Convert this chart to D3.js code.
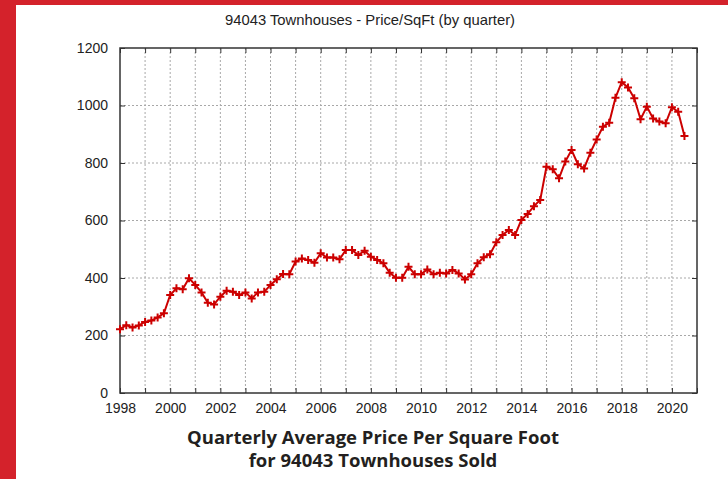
<!DOCTYPE html>
<html>
<head>
<meta charset="utf-8">
<script src="https://cdn.jsdelivr.net/npm/d3@7"></script>
<style>
  body { margin: 0; background: #fff; }
  svg { display: block; }
</style>
</head>
<body>
<svg id="chart"></svg>
<script>
// quarterly avg price per sqft, 1998 Q1 .. 2020 Q3
var startYear = 1998
var pricePerSqFt = [
  222, 236, 228, 235,   // 1998
  247, 252, 263, 277,   // 1999
  341, 364, 361, 399,   // 2000
  376, 350, 314, 308,   // 2001
  335, 356, 352, 341,   // 2002
  350, 329, 350, 352,   // 2003
  376, 396, 414, 413,   // 2004
  457, 468, 463, 453,   // 2005
  486, 471, 471, 465,   // 2006
  497, 497, 480, 495,   // 2007
  474, 463, 451, 418,   // 2008
  401, 401, 439, 413,   // 2009
  413, 430, 413, 418,   // 2010
  416, 428, 416, 395,   // 2011
  413, 451, 472, 483,   // 2012
  524, 550, 567, 550,   // 2013
  602, 623, 650, 671,   // 2014
  787, 778, 747, 805,   // 2015
  845, 796, 781, 836,   // 2016
  882, 926, 940, 1027,  // 2017
  1081, 1063, 1025, 952, // 2018
  996, 955, 944, 938,   // 2019
  994, 978, 894         // 2020
]
var yearTicks = d3.range(1998, 2022)
var yearLabels = d3.range(1998, 2021, 2)
var priceTicks = [0, 200, 400, 600, 800, 1000, 1200]
var titleText = "94043 Townhouses - Price/SqFt (by quarter)"
var captionLines = ["Quarterly Average Price Per Square Foot", "for 94043 Townhouses Sold"]

var dimensions = {
    width: 728,
    height: 479,
    margin: { top: 48, bottom: 86, right: 31, left: 120 }
}

var svg = d3.select("#chart")
            .attr("width", dimensions.width)
            .attr("height", dimensions.height)

// red frame of the page
svg.append("rect").attr("x", 0).attr("y", 0).attr("width", 16).attr("height", dimensions.height).attr("fill", "#d4222b")
svg.append("rect").attr("x", 0).attr("y", 0).attr("width", dimensions.width).attr("height", 5).attr("fill", "#d4222b")

var dataset = pricePerSqFt.map((v, i) => ({ t: startYear + i / 4, v: v }))
var xAccessor = d => d.t
var yAccessor = d => d.v

var plotLeft = dimensions.margin.left
var plotRight = dimensions.width - dimensions.margin.right
var plotTop = dimensions.margin.top
var plotBottom = dimensions.height - dimensions.margin.bottom

var xScale = d3.scaleLinear().domain([1998, 2021]).range([plotLeft, plotRight])
var yScale = d3.scaleLinear().domain([0, 1200]).range([plotBottom, plotTop])

// dotted grid
svg.append("g")
   .selectAll("line")
   .data(yearTicks.slice(1, -1))
   .join("line")
   .attr("x1", d => xScale(d)).attr("x2", d => xScale(d))
   .attr("y1", plotTop).attr("y2", plotBottom)
   .attr("stroke", "#a8a8a8").attr("stroke-width", 1).attr("stroke-dasharray", "2,2")
svg.append("g")
   .selectAll("line")
   .data(priceTicks.slice(1, -1))
   .join("line")
   .attr("x1", plotLeft).attr("x2", plotRight)
   .attr("y1", d => yScale(d)).attr("y2", d => yScale(d))
   .attr("stroke", "#a8a8a8").attr("stroke-width", 1).attr("stroke-dasharray", "2,2")

// axes, ticks pointing in, mirrored on top and right
var fontFam = "'Liberation Sans', Arial, sans-serif"
var xAxisgen = d3.axisBottom(xScale).tickValues(yearTicks).tickSizeInner(-5).tickSizeOuter(0).tickPadding(8)
                 .tickFormat(d => yearLabels.includes(d) ? d : "")
var yAxisgen = d3.axisLeft(yScale).tickValues(priceTicks).tickSizeInner(-5).tickSizeOuter(0).tickPadding(12)
                 .tickFormat(d3.format("d"))
var xTopgen = d3.axisTop(xScale).tickValues(yearTicks).tickSizeInner(-5).tickSizeOuter(0).tickFormat("")
var yRightgen = d3.axisRight(yScale).tickValues(priceTicks).tickSizeInner(-5).tickSizeOuter(0).tickFormat("")

var xAxis = svg.append("g").attr("transform", `translate(0,${plotBottom})`).call(xAxisgen)
var yAxis = svg.append("g").attr("transform", `translate(${plotLeft},0)`).call(yAxisgen)
svg.append("g").attr("transform", `translate(0,${plotTop})`).call(xTopgen)
svg.append("g").attr("transform", `translate(${plotRight},0)`).call(yRightgen)

svg.selectAll(".domain").remove()
svg.selectAll(".tick line").attr("stroke", "#333").attr("stroke-width", 1)
svg.selectAll(".tick text").attr("fill", "#222").style("font-family", fontFam).style("font-size", "14px")
xAxis.selectAll(".tick text").attr("dy", "0.85em")

svg.append("rect")
   .attr("x", plotLeft).attr("y", plotTop)
   .attr("width", plotRight - plotLeft).attr("height", plotBottom - plotTop)
   .attr("fill", "none").attr("stroke", "#333").attr("stroke-width", 1.5)

// price line with + markers
var line = d3.line()
             .x(d => xScale(xAccessor(d)))
             .y(d => yScale(yAccessor(d)))

svg.append("path")
   .datum(dataset)
   .attr("d", line)
   .style("fill", "none")
   .style("stroke", "#cc0000")
   .style("stroke-width", "2")

var plus = 4
svg.append("g")
   .selectAll("path")
   .data(dataset)
   .join("path")
   .attr("d", d => {
       var x = xScale(xAccessor(d)), y = yScale(yAccessor(d))
       return `M${x - plus},${y}H${x + plus}M${x},${y - plus}V${y + plus}`
   })
   .style("stroke", "#cc0000")
   .style("stroke-width", "2")

// title
svg.append("text")
   .attr("x", 370).attr("y", 25)
   .attr("text-anchor", "middle")
   .style("font-family", fontFam).style("font-size", "14.8px").attr("fill", "#222")
   .text(titleText)

// caption below chart
svg.append("g")
   .selectAll("text")
   .data(captionLines)
   .join("text")
   .attr("x", 373).attr("y", (d, i) => 444 + i * 23)
   .attr("text-anchor", "middle")
   .style("font-family", "'Open Sans', Lato, sans-serif").style("font-weight", "bold").style("font-size", "18.5px")
   .attr("fill", "#231f20")
   .text(d => d)
</script>
</body>
</html>
